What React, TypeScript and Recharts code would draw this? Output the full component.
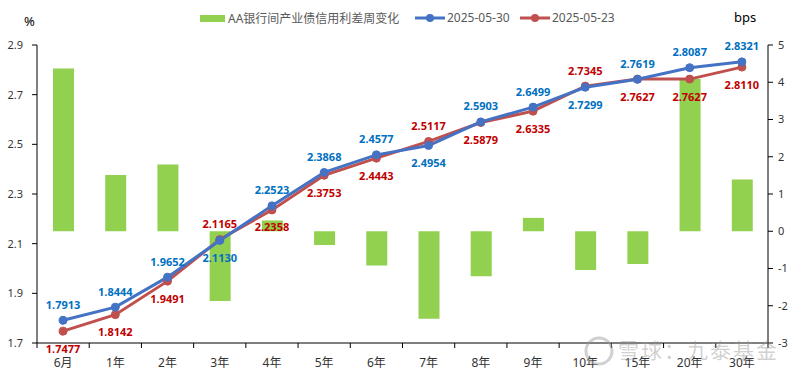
import React from "react";
import { ComposedChart, Bar, Line, XAxis, YAxis, LabelList } from "recharts";

const tenors = ["6月", "1年", "2年", "3年", "4年", "5年", "6年", "7年", "8年", "9年", "10年", "15年", "20年", "30年"];
const spreadChange = [4.37, 1.51, 1.79, -1.87, 0.29, -0.37, -0.92, -2.35, -1.21, 0.36, -1.04, -0.88, 4.09, 1.39];
const yield0530 = [1.7913, 1.8444, 1.9652, 2.113, 2.2523, 2.3868, 2.4577, 2.4954, 2.5903, 2.6499, 2.7299, 2.7619, 2.8087, 2.8321];
const yield0523 = [1.7477, 1.8142, 1.9491, 2.1165, 2.2358, 2.3753, 2.4443, 2.5117, 2.5879, 2.6335, 2.7345, 2.7627, 2.7627, 2.811];
const leftTicks = [1.7, 1.9, 2.1, 2.3, 2.5, 2.7, 2.9];
const rightTicks = [-3, -2, -1, 0, 1, 2, 3, 4, 5];
// tenors whose 2025-05-30 label sits below its point (05-23 label above)
const blueBelow = ["3年", "7年", "10年"];

const data = tenors.map((t, i) => ({
  name: t,
  bar: spreadChange[i],
  a: yield0530[i],
  b: yield0523[i],
}));

const W = 800;
const H = 375;
const LEFT_W = 37;
const RIGHT_W = 32;
const BW = (W - LEFT_W - RIGHT_W) / tenors.length;

const FONT = "'Noto Sans', 'Noto Sans CJK SC', sans-serif";
const BLUE = "#4472C4";
const BLUE_TXT = "#0070C0";
const RED = "#C0504D";
const RED_TXT = "#C00000";
const GREEN = "#92D050";

const XTick = (props: any) => {
  const { x, y, payload, index } = props;
  const last = index === tenors.length - 1;
  return (
    <g>
      <line x1={x - BW / 2} x2={x - BW / 2} y1={y} y2={y + 5} stroke="#000" />
      {last && <line x1={x + BW / 2} x2={x + BW / 2} y1={y} y2={y + 5} stroke="#000" />}
      <text x={x} y={y + 19} textAnchor="middle" dominantBaseline="central" fontSize={12} fill="#333" fontFamily={FONT}>
        {payload.value}
      </text>
    </g>
  );
};

const makeLabel = (series: "a" | "b") => (props: any) => {
  const { x, y, index, value } = props;
  const blueIsBelow = blueBelow.includes(tenors[index]);
  const above = series === "a" ? !blueIsBelow : blueIsBelow;
  return (
    <text
      x={x}
      y={above ? y - 16 : y + 17}
      textAnchor="middle"
      dominantBaseline="central"
      fontSize={11}
      fontWeight="bold"
      fill={series === "a" ? BLUE_TXT : RED_TXT}
      fontFamily={FONT}
    >
      {Number(value).toFixed(4)}
    </text>
  );
};

const LegendLine = ({ color }: { color: string }) => (
  <svg width={30} height={10} style={{ display: "inline-block", verticalAlign: "middle", marginRight: 2 }}>
    <line x1={0} x2={30} y1={5} y2={5} stroke={color} strokeWidth={3} />
    <circle cx={15} cy={5} r={4} fill={color} />
  </svg>
);

export default function App() {
  return (
    <div style={{ position: "absolute", left: 0, top: 0, width: W, height: H, background: "#fff", fontFamily: FONT }}>
      <ComposedChart width={W} height={H} data={data} margin={{ top: 45, right: 0, bottom: 0, left: 0 }}>
        <XAxis
          dataKey="name"
          height={32}
          tickLine={false}
          tickSize={0}
          tickMargin={0}
          axisLine={{ stroke: "#000" }}
          tick={<XTick />}
          interval={0}
        />
        <YAxis
          yAxisId="left"
          orientation="left"
          width={LEFT_W}
          domain={[1.7, 2.9]}
          ticks={leftTicks}
          tickFormatter={(v: number) => v.toFixed(1)}
          axisLine={{ stroke: "#000" }}
          tickLine={{ stroke: "#000" }}
          tickSize={5}
          tickMargin={9}
          tick={{ fontSize: 11, fill: "#333", fontFamily: FONT }}
          allowDataOverflow
        />
        <YAxis
          yAxisId="right"
          orientation="right"
          width={RIGHT_W}
          domain={[-3, 5]}
          ticks={rightTicks}
          axisLine={{ stroke: "#000" }}
          tickLine={{ stroke: "#000" }}
          tickSize={5}
          tickMargin={5}
          tick={{ fontSize: 11, fill: "#333", fontFamily: FONT }}
        />
        <Bar yAxisId="right" dataKey="bar" fill={GREEN} barSize={21} isAnimationActive={false} />
        <Line
          yAxisId="left"
          dataKey="b"
          stroke={RED}
          strokeWidth={3}
          dot={{ r: 4, fill: RED, stroke: RED, strokeWidth: 1 }}
          isAnimationActive={false}
        >
          <LabelList dataKey="b" content={makeLabel("b")} />
        </Line>
        <Line
          yAxisId="left"
          dataKey="a"
          stroke={BLUE}
          strokeWidth={3}
          dot={{ r: 4, fill: BLUE, stroke: BLUE, strokeWidth: 1 }}
          isAnimationActive={false}
        >
          <LabelList dataKey="a" content={makeLabel("a")} />
        </Line>
      </ComposedChart>

      <div style={{ position: "absolute", left: 24, top: 12, fontSize: 13, color: "#000" }}>%</div>
      <div style={{ position: "absolute", left: 734, top: 8, fontSize: 13, color: "#000" }}>bps</div>

      <div style={{ position: "absolute", top: 9, left: 0, width: W, height: 18, fontSize: 12, color: "#595959", whiteSpace: "nowrap" }}>
        <span style={{ position: "absolute", left: 200, top: 0, display: "flex", alignItems: "center" }}>
          <span style={{ display: "inline-block", width: 25, height: 7, background: GREEN, marginRight: 3 }} />
          AA银行间产业债信用利差周变化
        </span>
        <span style={{ position: "absolute", left: 415, top: 0, display: "flex", alignItems: "center" }}>
          <LegendLine color={BLUE} />
          2025-05-30
        </span>
        <span style={{ position: "absolute", left: 520, top: 0, display: "flex", alignItems: "center" }}>
          <LegendLine color={RED} />
          2025-05-23
        </span>
      </div>

      <svg style={{ position: "absolute", left: 583, top: 335 }} width={32} height={32}>
        <circle cx={16} cy={16} r={13} fill="none" stroke="rgba(150,150,150,0.45)" strokeWidth={3} />
      </svg>
      <div
        style={{
          position: "absolute",
          left: 618,
          top: 334,
          fontSize: 21,
          color: "rgba(150,150,150,0.45)",
          fontFamily: "'Noto Sans CJK SC', sans-serif",
          whiteSpace: "nowrap",
          letterSpacing: 2,
        }}
      >
        雪球：九泰基金
      </div>
    </div>
  );
}
